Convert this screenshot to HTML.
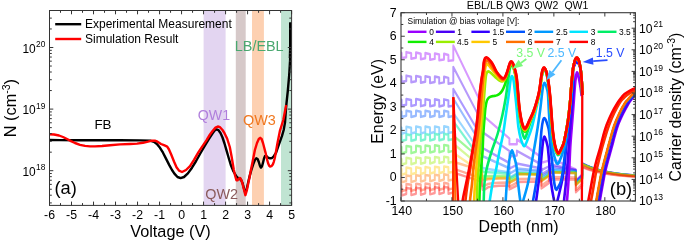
<!DOCTYPE html>
<html><head><meta charset="utf-8"><title>Figure</title>
<style>
html,body{margin:0;padding:0;background:#fff;}
body{width:685px;height:242px;overflow:hidden;}
svg{display:block;}
svg text{font-family:"Liberation Sans", Arial, Helvetica, sans-serif;}
</style></head><body>
<svg width="685" height="242" viewBox="0 0 685 242">
<defs>
<clipPath id="clipL"><rect x="49.5" y="10.5" width="242.10" height="194.9"/></clipPath>
<clipPath id="clipR"><rect x="401.0" y="12.7" width="234.40" height="188.30"/></clipPath>
</defs>
<rect width="685" height="242" fill="#fff"/>
<rect x="203.6" y="10.5" width="22.00" height="194.9" fill="#e3d5f1"/>
<rect x="235.8" y="10.5" width="9.90" height="194.9" fill="#d6c9c9"/>
<rect x="252.0" y="10.5" width="11.90" height="194.9" fill="#fdd0b1"/>
<rect x="281.0" y="10.5" width="10.60" height="194.9" fill="#c0e4d2"/>
<g clip-path="url(#clipL)">
<path d="M49.50,140.00 L60.00,140.10 L80.00,140.20 L100.00,140.30 L120.00,140.30 L140.00,140.40 L150.70,140.80 L154.00,141.80 L156.90,144.00 L160.00,147.80 L163.00,152.70 L166.00,158.60 L169.30,165.10 L172.00,170.00 L174.40,173.60 L177.50,177.00 L180.60,178.10 L184.00,177.00 L187.90,173.40 L192.00,167.70 L196.10,161.00 L200.00,154.00 L204.40,146.50 L208.50,139.60 L212.60,133.40 L214.60,130.60 L216.40,129.40 L218.50,130.20 L220.50,133.00 L222.50,137.50 L224.50,143.50 L226.50,150.40 L229.00,159.00 L231.10,165.90 L233.50,171.50 L236.40,176.40 L239.00,178.80 L241.00,179.70 L242.50,183.00 L244.00,188.50 L245.20,192.50 L246.50,190.00 L248.00,183.00 L249.60,176.40 L251.50,169.50 L253.60,163.20 L255.00,159.80 L256.30,158.30 L257.60,159.00 L258.80,162.00 L260.00,166.00 L260.90,167.60 L261.90,166.50 L262.90,163.20 L264.00,158.50 L265.00,156.00 L266.50,156.20 L268.00,157.60 L270.10,158.40 L272.00,158.00 L274.00,156.00 L276.10,152.60 L278.70,145.10 L280.50,140.00 L282.00,135.90 L283.70,130.00 L285.00,122.60 L286.20,106.00 L287.80,91.00 L289.20,75.00 L290.10,60.00 L290.40,47.00 L290.45,22.60" fill="none" stroke="#000" stroke-width="2.4" stroke-linejoin="round" stroke-linecap="butt"/>
<path d="M290.2,58 L290.5,47 L290.5,22.6" fill="none" stroke="#000" stroke-width="3"/>
<path d="M49.50,134.20 L54.00,134.50 L59.00,135.50 L63.00,137.00 L67.00,139.00 L71.00,141.10 L75.00,143.00 L80.00,144.80 L85.00,145.90 L90.00,146.40 L95.00,146.40 L102.00,146.00 L110.00,145.20 L120.00,144.40 L130.00,144.00 L137.00,143.60 L143.00,142.80 L148.00,141.60 L151.00,140.80 L154.80,140.60 L157.50,141.70 L161.00,144.00 L164.00,145.20 L167.20,146.60 L169.00,149.50 L171.30,154.80 L174.00,161.50 L176.50,167.20 L179.00,170.60 L182.00,172.00 L186.00,170.00 L190.00,166.20 L194.00,159.80 L198.20,152.70 L202.00,146.80 L206.40,140.30 L210.00,134.50 L212.60,131.00 L215.50,127.60 L217.80,126.50 L220.00,127.20 L222.50,130.00 L224.50,133.20 L227.10,138.50 L229.80,147.00 L231.50,156.00 L233.80,169.80 L235.20,176.00 L236.40,180.20 L237.40,180.40 L238.40,179.20 L239.60,178.00 L240.40,178.20 L241.30,180.00 L242.40,183.30 L243.80,189.00 L245.40,195.20 L246.80,190.50 L248.30,183.30 L249.60,177.00 L251.00,169.50 L252.30,163.20 L254.90,150.00 L257.00,143.00 L258.80,139.00 L260.20,137.80 L261.60,139.00 L263.00,143.00 L264.30,148.00 L265.50,152.60 L266.80,158.50 L268.10,163.20 L269.20,165.80 L270.10,166.50 L271.40,166.20 L272.80,164.50 L273.80,161.80 L274.80,158.00 L276.10,151.00 L277.50,143.00 L280.00,130.60 L283.30,120.00 L286.20,105.00" fill="none" stroke="#f00" stroke-width="2.4" stroke-linejoin="round" stroke-linecap="butt"/>
</g>
<path d="M49.50,205.4 v-3.8 M49.50,10.5 v3.8 M60.50,205.4 v-2.3 M60.50,10.5 v2.3 M71.51,205.4 v-3.8 M71.51,10.5 v3.8 M82.51,205.4 v-2.3 M82.51,10.5 v2.3 M93.52,205.4 v-3.8 M93.52,10.5 v3.8 M104.52,205.4 v-2.3 M104.52,10.5 v2.3 M115.53,205.4 v-3.8 M115.53,10.5 v3.8 M126.53,205.4 v-2.3 M126.53,10.5 v2.3 M137.54,205.4 v-3.8 M137.54,10.5 v3.8 M148.54,205.4 v-2.3 M148.54,10.5 v2.3 M159.55,205.4 v-3.8 M159.55,10.5 v3.8 M170.55,205.4 v-2.3 M170.55,10.5 v2.3 M181.55,205.4 v-3.8 M181.55,10.5 v3.8 M192.56,205.4 v-2.3 M192.56,10.5 v2.3 M203.56,205.4 v-3.8 M203.56,10.5 v3.8 M214.57,205.4 v-2.3 M214.57,10.5 v2.3 M225.57,205.4 v-3.8 M225.57,10.5 v3.8 M236.58,205.4 v-2.3 M236.58,10.5 v2.3 M247.58,205.4 v-3.8 M247.58,10.5 v3.8 M258.59,205.4 v-2.3 M258.59,10.5 v2.3 M269.59,205.4 v-3.8 M269.59,10.5 v3.8 M280.60,205.4 v-2.3 M280.60,10.5 v2.3 M291.60,205.4 v-3.8 M291.60,10.5 v3.8 M49.5,202.91 h2.3 M291.6,202.91 h-2.3 M49.5,195.21 h2.3 M291.6,195.21 h-2.3 M49.5,189.24 h2.3 M291.6,189.24 h-2.3 M49.5,184.37 h2.3 M291.6,184.37 h-2.3 M49.5,180.24 h2.3 M291.6,180.24 h-2.3 M49.5,176.67 h2.3 M291.6,176.67 h-2.3 M49.5,173.52 h2.3 M291.6,173.52 h-2.3 M49.5,170.70 h3.8 M291.6,170.70 h-3.8 M49.5,152.16 h2.3 M291.6,152.16 h-2.3 M49.5,141.31 h2.3 M291.6,141.31 h-2.3 M49.5,133.61 h2.3 M291.6,133.61 h-2.3 M49.5,127.64 h2.3 M291.6,127.64 h-2.3 M49.5,122.77 h2.3 M291.6,122.77 h-2.3 M49.5,118.64 h2.3 M291.6,118.64 h-2.3 M49.5,115.07 h2.3 M291.6,115.07 h-2.3 M49.5,111.92 h2.3 M291.6,111.92 h-2.3 M49.5,109.10 h3.8 M291.6,109.10 h-3.8 M49.5,90.56 h2.3 M291.6,90.56 h-2.3 M49.5,79.71 h2.3 M291.6,79.71 h-2.3 M49.5,72.01 h2.3 M291.6,72.01 h-2.3 M49.5,66.04 h2.3 M291.6,66.04 h-2.3 M49.5,61.17 h2.3 M291.6,61.17 h-2.3 M49.5,57.04 h2.3 M291.6,57.04 h-2.3 M49.5,53.47 h2.3 M291.6,53.47 h-2.3 M49.5,50.32 h2.3 M291.6,50.32 h-2.3 M49.5,47.50 h3.8 M291.6,47.50 h-3.8 M49.5,28.96 h2.3 M291.6,28.96 h-2.3 M49.5,18.11 h2.3 M291.6,18.11 h-2.3" stroke="#333" stroke-width="1.0" fill="none"/>
<rect x="49.5" y="10.5" width="242.10" height="194.9" fill="none" stroke="#333" stroke-width="1.0"/>
<text x="49.50" y="219.4" font-size="12.3" text-anchor="middle">-6</text>
<text x="71.51" y="219.4" font-size="12.3" text-anchor="middle">-5</text>
<text x="93.52" y="219.4" font-size="12.3" text-anchor="middle">-4</text>
<text x="115.53" y="219.4" font-size="12.3" text-anchor="middle">-3</text>
<text x="137.54" y="219.4" font-size="12.3" text-anchor="middle">-2</text>
<text x="159.55" y="219.4" font-size="12.3" text-anchor="middle">-1</text>
<text x="181.55" y="219.4" font-size="12.3" text-anchor="middle">0</text>
<text x="203.56" y="219.4" font-size="12.3" text-anchor="middle">1</text>
<text x="225.57" y="219.4" font-size="12.3" text-anchor="middle">2</text>
<text x="247.58" y="219.4" font-size="12.3" text-anchor="middle">3</text>
<text x="269.59" y="219.4" font-size="12.3" text-anchor="middle">4</text>
<text x="291.60" y="219.4" font-size="12.3" text-anchor="middle">5</text>
<text x="22.4" y="175.70" font-size="11.9">10<tspan font-size="8.4" x="36.0" dy="-5.4">18</tspan></text>
<text x="22.4" y="114.10" font-size="11.9">10<tspan font-size="8.4" x="36.0" dy="-5.4">19</tspan></text>
<text x="22.4" y="52.50" font-size="11.9">10<tspan font-size="8.4" x="36.0" dy="-5.4">20</tspan></text>
<text x="170.5" y="237.1" font-size="16.3" text-anchor="middle">Voltage (V)</text>
<text transform="translate(16.0,108.1) rotate(-90)" font-size="16.3" text-anchor="middle">N (cm<tspan font-size="10.5" dy="-6">-3</tspan><tspan dy="6">)</tspan></text>
<path d="M55.2,24.2 h26" stroke="#000" stroke-width="2.4"/>
<path d="M55.2,39.0 h26" stroke="#f00" stroke-width="2.4"/>
<text x="85" y="28.4" font-size="12.0">Experimental Measurement</text>
<text x="85" y="43.1" font-size="12.0">Simulation Result</text>
<text x="94.4" y="128.8" font-size="13.4">FB</text>
<text x="197.8" y="120.3" font-size="14.2" fill="#b07fdc">QW1</text>
<text x="205.3" y="198.8" font-size="14.4" fill="#8a5a5a">QW2</text>
<text x="243" y="125.2" font-size="14.4" fill="#f07820">QW3</text>
<text x="234.8" y="50.9" font-size="14.4" fill="#4aa870">LB/EBL</text>
<text x="54.5" y="194.2" font-size="18.3">(a)</text>
<g clip-path="url(#clipR)">
<g transform="scale(0.78,1)">
<path d="M511.54,52.29 L514.87,52.90 L514.87,58.14 L520.90,57.22 L520.90,52.11 L527.18,53.33 L527.18,58.70 L533.33,57.78 L533.33,52.55 L539.49,53.77 L539.49,59.27 L545.26,58.33 L545.26,52.97 L551.28,54.18 L551.28,59.80 L557.44,58.88 L557.44,53.40 L563.08,54.59 L563.08,60.34 L569.23,59.42 L569.23,53.81 L574.87,55.01 L574.87,60.88 L581.15,60.27 L581.15,45.60 L612.82,96.80 L617.31,104.06 L618.59,115.13 L621.79,117.30 L653.08,138.50 L653.08,144.30 L662.69,144.30 L662.69,139.40 L694.10,157.30 L694.10,162.70 L703.72,160.60 L703.72,157.50 L738.21,169.50 L738.21,180.50 L746.54,174.20 L746.54,163.40 L748.72,164.28 L752.56,165.70 L756.41,166.96 L760.26,168.09 L764.10,169.09 L767.95,169.99 L771.79,170.78 L775.64,171.49 L779.49,172.13 L783.33,172.69 L787.18,173.19 L791.03,173.64 L794.87,174.04 L798.72,174.39 L802.56,174.71 L806.41,174.99 L810.26,175.24 L814.10,175.47 L817.95,175.67 L821.79,175.85" fill="none" stroke="#9b00ff" stroke-opacity="0.4" stroke-width="2.5" stroke-linejoin="round"/>
<path d="M511.54,75.89 L514.87,76.47 L514.87,81.93 L520.90,80.91 L520.90,75.61 L527.18,76.76 L527.18,82.30 L533.33,81.29 L533.33,75.90 L539.49,77.04 L539.49,82.68 L545.26,81.65 L545.26,76.18 L551.28,77.32 L551.28,83.04 L557.44,82.02 L557.44,76.46 L563.08,77.60 L563.08,83.39 L569.23,82.38 L569.23,76.74 L574.87,77.87 L574.87,83.75 L581.15,83.04 L581.15,67.00 L611.79,112.90 L617.31,121.16 L618.59,132.04 L621.79,133.80 L653.08,151.00 L653.08,156.60 L662.69,155.50 L662.69,150.80 L694.10,164.50 L694.10,170.20 L703.72,166.30 L703.72,164.00 L738.21,170.00 L738.21,181.20 L746.54,174.90 L746.54,163.50 L748.72,164.37 L752.56,165.79 L756.41,167.04 L760.26,168.16 L764.10,169.16 L767.95,170.05 L771.79,170.84 L775.64,171.55 L779.49,172.18 L783.33,172.74 L787.18,173.24 L791.03,173.68 L794.87,174.08 L798.72,174.43 L802.56,174.75 L806.41,175.03 L810.26,175.28 L814.10,175.50 L817.95,175.70 L821.79,175.87" fill="none" stroke="#4a00f5" stroke-opacity="0.4" stroke-width="2.5" stroke-linejoin="round"/>
<path d="M511.54,99.32 L514.87,99.85 L514.87,105.83 L520.90,104.70 L520.90,98.90 L527.18,99.96 L527.18,105.98 L533.33,104.86 L533.33,99.02 L539.49,100.08 L539.49,106.13 L545.26,105.00 L545.26,99.13 L551.28,100.19 L551.28,106.27 L557.44,105.15 L557.44,99.25 L563.08,100.30 L563.08,106.42 L569.23,105.29 L569.23,99.36 L574.87,100.41 L574.87,106.56 L581.15,105.74 L581.15,89.00 L603.85,119.00 L617.31,136.80 L618.59,147.90 L621.79,149.30 L653.08,163.00 L653.08,168.50 L662.69,164.90 L662.69,163.50 L694.10,168.50 L694.10,174.30 L703.72,170.00 L703.72,166.00 L738.21,170.30 L738.21,181.60 L746.54,175.30 L746.54,163.60 L748.72,164.47 L752.56,165.87 L756.41,167.12 L760.26,168.24 L764.10,169.23 L767.95,170.11 L771.79,170.90 L775.64,171.60 L779.49,172.23 L783.33,172.78 L787.18,173.28 L791.03,173.72 L794.87,174.12 L798.72,174.47 L802.56,174.78 L806.41,175.06 L810.26,175.31 L814.10,175.53 L817.95,175.73 L821.79,175.90" fill="none" stroke="#3300ff" stroke-opacity="0.4" stroke-width="2.5" stroke-linejoin="round"/>
<path d="M511.54,111.30 L514.87,111.80 L514.87,116.90 L520.90,115.70 L520.90,110.80 L527.18,111.80 L527.18,116.90 L533.33,115.70 L533.33,110.80 L539.49,111.80 L539.49,116.90 L545.26,115.70 L545.26,110.80 L551.28,111.80 L551.28,116.90 L557.44,115.70 L557.44,110.80 L563.08,111.80 L563.08,116.90 L569.23,115.70 L569.23,110.80 L574.87,111.80 L574.87,116.90 L581.15,116.00 L581.15,98.50 L597.18,119.00 L617.31,144.75 L618.59,156.17 L621.79,157.30 L653.08,168.30 L653.08,173.70 L662.69,169.30 L662.69,168.50 L694.10,170.80 L694.10,176.70 L703.72,171.90 L703.72,168.50 L738.21,170.80 L738.21,182.20 L746.54,175.90 L746.54,163.70 L748.72,164.56 L752.56,165.96 L756.41,167.20 L760.26,168.31 L764.10,169.29 L767.95,170.17 L771.79,170.96 L775.64,171.65 L779.49,172.28 L783.33,172.83 L787.18,173.32 L791.03,173.76 L794.87,174.16 L798.72,174.50 L802.56,174.82 L806.41,175.09 L810.26,175.34 L814.10,175.56 L817.95,175.76 L821.79,175.93" fill="none" stroke="#0055ff" stroke-opacity="0.4" stroke-width="2.5" stroke-linejoin="round"/>
<path d="M511.54,127.27 L514.87,127.74 L514.87,133.66 L520.90,132.40 L520.90,126.70 L527.18,127.65 L527.18,133.53 L533.33,132.27 L533.33,126.60 L539.49,127.55 L539.49,133.41 L545.26,132.15 L545.26,126.51 L551.28,127.46 L551.28,133.29 L557.44,132.03 L557.44,126.41 L563.08,127.37 L563.08,133.17 L569.23,131.91 L569.23,126.32 L574.87,127.28 L574.87,133.05 L581.15,132.09 L581.15,113.00 L599.36,133.50 L617.31,153.71 L618.59,168.09 L621.79,168.50 L653.08,172.50 L653.08,177.80 L662.69,173.30 L662.69,170.50 L694.10,172.00 L694.10,178.00 L703.72,172.90 L703.72,170.00 L738.21,171.30 L738.21,182.80 L746.54,176.50 L746.54,163.80 L748.72,164.66 L752.56,166.05 L756.41,167.28 L760.26,168.38 L764.10,169.36 L767.95,170.24 L771.79,171.01 L775.64,171.71 L779.49,172.33 L783.33,172.88 L787.18,173.37 L791.03,173.80 L794.87,174.19 L798.72,174.54 L802.56,174.85 L806.41,175.13 L810.26,175.37 L814.10,175.59 L817.95,175.79 L821.79,175.96" fill="none" stroke="#0099ff" stroke-opacity="0.4" stroke-width="2.5" stroke-linejoin="round"/>
<path d="M511.54,134.70 L514.87,135.17 L514.87,140.79 L520.90,139.49 L520.90,134.10 L527.18,135.02 L527.18,140.60 L533.33,139.31 L533.33,133.95 L539.49,134.88 L539.49,140.41 L545.26,139.12 L545.26,133.81 L551.28,134.74 L551.28,140.23 L557.44,138.94 L557.44,133.67 L563.08,134.60 L563.08,140.05 L569.23,138.76 L569.23,133.53 L574.87,134.46 L574.87,139.87 L581.15,138.88 L581.15,121.00 L596.03,137.00 L617.31,159.90 L618.59,171.30 L621.79,171.50 L653.08,173.50 L653.08,178.60 L662.69,174.10 L662.69,172.90 L694.10,173.60 L694.10,179.60 L703.72,174.40 L703.72,171.20 L738.21,172.10 L738.21,183.70 L746.54,177.40 L746.54,163.90 L748.72,164.75 L752.56,166.13 L756.41,167.36 L760.26,168.45 L764.10,169.43 L767.95,170.30 L771.79,171.07 L775.64,171.76 L779.49,172.38 L783.33,172.92 L787.18,173.41 L791.03,173.85 L794.87,174.23 L798.72,174.58 L802.56,174.89 L806.41,175.16 L810.26,175.40 L814.10,175.62 L817.95,175.82 L821.79,175.99" fill="none" stroke="#00e5ff" stroke-opacity="0.3" stroke-width="2.5" stroke-linejoin="round"/>
<path d="M511.54,135.10 L514.87,135.57 L514.87,141.19 L520.90,139.89 L520.90,134.50 L527.18,135.42 L527.18,141.00 L533.33,139.71 L533.33,134.35 L539.49,135.28 L539.49,140.81 L545.26,139.52 L545.26,134.21 L551.28,135.14 L551.28,140.63 L557.44,139.34 L557.44,134.07 L563.08,135.00 L563.08,140.45 L569.23,139.16 L569.23,133.93 L574.87,134.86 L574.87,140.27 L581.15,139.28 L581.15,121.40 L596.03,137.40 L617.31,160.30 L618.59,171.70 L621.79,171.90 L653.08,173.90 L653.08,178.90 L662.69,174.50 L662.69,173.20 L694.10,173.90 L694.10,180.00 L703.72,174.80 L703.72,171.50 L738.21,172.40 L738.21,184.10 L746.54,177.80 L746.54,163.95 L748.72,164.80 L752.56,166.17 L756.41,167.40 L760.26,168.49 L764.10,169.46 L767.95,170.32 L771.79,171.10 L775.64,171.78 L779.49,172.39 L783.33,172.94 L787.18,173.43 L791.03,173.86 L794.87,174.25 L798.72,174.59 L802.56,174.90 L806.41,175.17 L810.26,175.41 L814.10,175.63 L817.95,175.82 L821.79,175.99" fill="none" stroke="#00ee66" stroke-opacity="0.3" stroke-width="2.5" stroke-linejoin="round"/>
<path d="M511.54,146.58 L514.87,147.01 L514.87,153.44 L520.90,152.09 L520.90,145.89 L527.18,146.77 L527.18,153.13 L533.33,151.78 L533.33,145.65 L539.49,146.53 L539.49,152.82 L545.26,151.47 L545.26,145.42 L551.28,146.30 L551.28,152.52 L557.44,151.16 L557.44,145.18 L563.08,146.07 L563.08,152.22 L569.23,150.86 L569.23,144.95 L574.87,145.84 L574.87,151.92 L581.15,150.86 L581.15,135.50 L603.46,150.50 L617.31,159.81 L618.59,176.33 L621.79,176.30 L625.64,176.15 L630.77,176.07 L639.74,176.02 L653.08,176.00 L653.08,180.90 L662.69,176.60 L662.69,173.50 L694.10,174.20 L694.10,180.40 L703.72,175.10 L703.72,171.90 L738.21,172.70 L738.21,184.50 L746.54,178.20 L746.54,164.00 L748.72,164.85 L752.56,166.22 L756.41,167.44 L760.26,168.53 L764.10,169.50 L767.95,170.36 L771.79,171.13 L775.64,171.81 L779.49,172.43 L783.33,172.97 L787.18,173.45 L791.03,173.89 L794.87,174.27 L798.72,174.62 L802.56,174.92 L806.41,175.19 L810.26,175.44 L814.10,175.65 L817.95,175.84 L821.79,176.02" fill="none" stroke="#11ee00" stroke-opacity="0.4" stroke-width="2.5" stroke-linejoin="round"/>
<path d="M511.54,158.51 L514.87,158.93 L514.87,164.57 L520.90,163.19 L520.90,157.79 L527.18,158.64 L527.18,164.20 L533.33,162.81 L533.33,157.50 L539.49,158.36 L539.49,163.82 L545.26,162.45 L545.26,157.22 L551.28,158.08 L551.28,163.46 L557.44,162.08 L557.44,156.94 L563.08,157.80 L563.08,163.11 L569.23,161.72 L569.23,156.66 L574.87,157.53 L574.87,162.75 L581.15,161.66 L581.15,143.60 L602.05,157.30 L617.31,167.30 L618.59,178.27 L621.79,178.20 L625.64,177.85 L630.77,177.68 L639.74,177.56 L653.08,177.50 L653.08,182.30 L662.69,178.10 L662.69,173.70 L694.10,174.40 L694.10,180.70 L703.72,175.40 L703.72,172.10 L738.21,172.90 L738.21,184.80 L746.54,178.50 L746.54,164.10 L748.72,164.94 L752.56,166.31 L756.41,167.52 L760.26,168.60 L764.10,169.56 L767.95,170.42 L771.79,171.19 L775.64,171.87 L779.49,172.48 L783.33,173.02 L787.18,173.50 L791.03,173.93 L794.87,174.31 L798.72,174.65 L802.56,174.96 L806.41,175.23 L810.26,175.47 L814.10,175.68 L817.95,175.87 L821.79,176.04" fill="none" stroke="#99ee00" stroke-opacity="0.4" stroke-width="2.5" stroke-linejoin="round"/>
<path d="M511.54,168.31 L514.87,168.73 L514.87,174.67 L520.90,173.29 L520.90,167.59 L527.18,168.44 L527.18,174.30 L533.33,172.91 L533.33,167.30 L539.49,168.16 L539.49,173.92 L545.26,172.55 L545.26,167.02 L551.28,167.88 L551.28,173.56 L557.44,172.18 L557.44,166.74 L563.08,167.60 L563.08,173.21 L569.23,171.82 L569.23,166.46 L574.87,167.33 L574.87,172.85 L581.15,171.76 L581.15,152.80 L600.51,163.10 L617.31,172.04 L618.59,179.53 L621.79,179.40 L625.64,178.75 L630.77,178.43 L639.74,178.20 L653.08,178.10 L653.08,182.80 L662.69,178.70 L662.69,173.90 L694.10,174.60 L694.10,181.00 L703.72,175.70 L703.72,172.30 L738.21,173.10 L738.21,185.10 L746.54,178.80 L746.54,164.30 L748.72,165.13 L752.56,166.48 L756.41,167.68 L760.26,168.75 L764.10,169.70 L767.95,170.55 L771.79,171.30 L775.64,171.98 L779.49,172.58 L783.33,173.11 L787.18,173.59 L791.03,174.01 L794.87,174.39 L798.72,174.73 L802.56,175.03 L806.41,175.29 L810.26,175.53 L814.10,175.74 L817.95,175.93 L821.79,176.10" fill="none" stroke="#ffc800" stroke-opacity="0.4" stroke-width="2.5" stroke-linejoin="round"/>
<path d="M511.54,176.21 L514.87,176.63 L514.87,182.37 L520.90,180.99 L520.90,175.49 L527.18,176.34 L527.18,182.00 L533.33,180.61 L533.33,175.20 L539.49,176.06 L539.49,181.62 L545.26,180.25 L545.26,174.92 L551.28,175.78 L551.28,181.26 L557.44,179.88 L557.44,174.64 L563.08,175.50 L563.08,180.91 L569.23,179.52 L569.23,174.36 L574.87,175.23 L574.87,180.55 L581.15,179.46 L581.15,161.70 L599.74,166.30 L617.31,170.65 L618.59,180.15 L621.79,180.00 L625.64,179.25 L630.77,178.88 L639.74,178.62 L653.08,178.50 L653.08,183.00 L662.69,179.10 L662.69,174.10 L694.10,174.80 L694.10,181.40 L703.72,176.10 L703.72,172.50 L738.21,173.30 L738.21,185.50 L746.54,179.20 L746.54,164.50 L748.72,165.33 L752.56,166.67 L756.41,167.86 L760.26,168.93 L764.10,169.87 L767.95,170.72 L771.79,171.47 L775.64,172.14 L779.49,172.74 L783.33,173.27 L787.18,173.74 L791.03,174.17 L794.87,174.54 L798.72,174.88 L802.56,175.18 L806.41,175.44 L810.26,175.68 L814.10,175.89 L817.95,176.08 L821.79,176.25" fill="none" stroke="#ff7000" stroke-opacity="0.4" stroke-width="2.5" stroke-linejoin="round"/>
<path d="M511.54,184.71 L514.87,185.13 L514.87,191.27 L520.90,189.89 L520.90,183.99 L527.18,184.84 L527.18,190.90 L533.33,189.51 L533.33,183.70 L539.49,184.56 L539.49,190.52 L545.26,189.15 L545.26,183.42 L551.28,184.28 L551.28,190.16 L557.44,188.78 L557.44,183.14 L563.08,184.00 L563.08,189.81 L569.23,188.42 L569.23,182.86 L574.87,183.73 L574.87,189.45 L581.15,188.36 L581.15,168.60 L598.97,173.40 L617.31,178.34 L618.59,185.93 L621.79,185.60 L625.64,184.00 L630.77,183.20 L639.74,182.66 L653.08,182.40 L653.08,186.70 L662.69,182.70 L662.69,179.00 L694.10,178.80 L694.10,185.60 L703.72,180.30 L703.72,177.00 L738.21,177.50 L738.21,189.90 L746.54,183.60 L746.54,166.30 L748.72,167.03 L752.56,168.22 L756.41,169.27 L760.26,170.21 L764.10,171.04 L767.95,171.79 L771.79,172.45 L775.64,173.04 L779.49,173.57 L783.33,174.04 L787.18,174.46 L791.03,174.83 L794.87,175.16 L798.72,175.46 L802.56,175.72 L806.41,175.96 L810.26,176.17 L814.10,176.35 L817.95,176.52 L821.79,176.67" fill="none" stroke="#ff3000" stroke-opacity="0.4" stroke-width="2.5" stroke-linejoin="round"/>
<path d="M511.54,188.71 L514.87,189.13 L514.87,195.47 L520.90,194.09 L520.90,187.99 L527.18,188.84 L527.18,195.10 L533.33,193.71 L533.33,187.70 L539.49,188.56 L539.49,194.72 L545.26,193.35 L545.26,187.42 L551.28,188.28 L551.28,194.36 L557.44,192.98 L557.44,187.14 L563.08,188.00 L563.08,194.01 L569.23,192.62 L569.23,186.86 L574.87,187.73 L574.87,193.65 L581.15,192.56 L581.15,172.50 L597.44,176.60 L617.31,181.60 L618.59,189.70 L621.79,189.30 L625.64,187.35 L630.77,186.38 L639.74,185.71 L653.08,185.40 L653.08,189.40 L662.69,185.60 L662.69,182.00 L694.10,181.50 L694.10,188.50 L703.72,183.10 L703.72,179.20 L738.21,179.60 L738.21,192.20 L746.54,185.90 L746.54,167.20 L748.72,167.89 L752.56,169.00 L756.41,169.98 L760.26,170.86 L764.10,171.65 L767.95,172.35 L771.79,172.97 L775.64,173.52 L779.49,174.02 L783.33,174.46 L787.18,174.85 L791.03,175.20 L794.87,175.51 L798.72,175.79 L802.56,176.04 L806.41,176.26 L810.26,176.45 L814.10,176.63 L817.95,176.79 L821.79,176.92" fill="none" stroke="#ff0000" stroke-opacity="0.4" stroke-width="2.5" stroke-linejoin="round"/>
</g>
<path d="M566.20,215.00 C566.33,212.67 566.65,206.17 567.00,201.00 C567.35,195.83 567.90,189.83 568.30,184.00 C568.70,178.17 569.05,172.50 569.40,166.00 C569.75,159.50 569.93,152.33 570.40,145.00 C570.87,137.67 571.67,128.83 572.20,122.00 C572.73,115.17 573.15,110.00 573.60,104.00 C574.05,98.00 574.52,90.50 574.90,86.00 C575.28,81.50 575.55,79.27 575.90,77.00 C576.25,74.73 576.62,72.65 577.00,72.40 C577.38,72.15 577.80,74.07 578.20,75.50 C578.60,76.93 579.00,78.92 579.40,81.00 C579.80,83.08 580.23,85.50 580.60,88.00 C580.97,90.50 581.43,94.67 581.60,96.00" fill="none" stroke="#9b00ff" stroke-width="2.6" stroke-linejoin="round" stroke-linecap="butt"/>
<path d="M597.60,215.00 C597.97,212.67 599.23,204.50 599.80,201.00 C600.37,197.50 600.47,197.00 601.00,194.00 C601.53,191.00 602.32,186.67 603.00,183.00 C603.68,179.33 604.23,175.83 605.10,172.00 C605.97,168.17 607.08,164.17 608.20,160.00 C609.32,155.83 610.72,151.00 611.80,147.00 C612.88,143.00 613.67,139.67 614.70,136.00 C615.73,132.33 616.55,128.83 618.00,125.00 C619.45,121.17 621.60,116.67 623.40,113.00 C625.20,109.33 627.53,105.17 628.80,103.00 C630.07,100.83 630.30,100.92 631.00,100.00 C631.70,99.08 632.45,98.18 633.00,97.50 C633.55,96.82 633.30,96.32 634.30,95.90 C635.30,95.48 637.88,95.23 639.00,95.00 C640.12,94.77 640.67,94.58 641.00,94.50" fill="none" stroke="#9b00ff" stroke-width="2.6" stroke-linejoin="round" stroke-linecap="butt"/>
<path d="M563.20,215.00 C563.33,212.67 563.57,206.17 564.00,201.00 C564.43,195.83 565.23,189.83 565.80,184.00 C566.37,178.17 566.88,172.50 567.40,166.00 C567.92,159.50 568.33,152.33 568.90,145.00 C569.47,137.67 570.22,128.83 570.80,122.00 C571.38,115.17 571.92,110.00 572.40,104.00 C572.88,98.00 573.62,91.67 573.70,86.00 C573.78,80.33 572.83,73.32 572.90,70.00 C572.97,66.68 573.68,67.18 574.10,66.08 C574.52,64.98 574.95,64.10 575.40,63.40 C575.85,62.70 576.32,61.90 576.80,61.90 C577.28,61.90 577.83,62.70 578.30,63.40 C578.77,64.10 579.20,64.98 579.60,66.08 C580.00,67.18 580.44,67.68 580.70,70.00 C580.96,72.32 580.99,77.00 581.18,80.00 C581.38,83.00 581.71,85.50 581.89,88.00 C582.07,90.50 582.19,93.83 582.25,95.00" fill="none" stroke="#4a00f5" stroke-width="2.6" stroke-linejoin="round" stroke-linecap="butt"/>
<path d="M596.90,215.00 C597.27,212.67 598.53,204.50 599.10,201.00 C599.67,197.50 599.77,197.00 600.30,194.00 C600.83,191.00 601.62,186.67 602.30,183.00 C602.98,179.33 603.53,175.83 604.40,172.00 C605.27,168.17 606.38,164.17 607.50,160.00 C608.62,155.83 610.02,151.00 611.10,147.00 C612.18,143.00 612.97,139.67 614.00,136.00 C615.03,132.33 615.85,128.83 617.30,125.00 C618.75,121.17 620.90,116.67 622.70,113.00 C624.50,109.33 626.83,105.17 628.10,103.00 C629.37,100.83 629.60,100.92 630.30,100.00 C631.00,99.08 631.75,98.18 632.30,97.50 C632.85,96.82 632.60,96.32 633.60,95.90 C634.60,95.48 637.18,95.23 638.30,95.00 C639.42,94.77 639.97,94.58 640.30,94.50" fill="none" stroke="#4a00f5" stroke-width="2.6" stroke-linejoin="round" stroke-linecap="butt"/>
<path d="M534.30,215.00 C534.60,212.67 535.35,206.67 536.10,201.00 C536.85,195.33 538.07,186.83 538.80,181.00 C539.53,175.17 539.92,171.50 540.50,166.00 C541.08,160.50 541.82,152.42 542.30,148.00 C542.78,143.58 543.03,141.40 543.40,139.50 C543.77,137.60 544.12,136.63 544.50,136.60 C544.88,136.57 545.32,138.23 545.70,139.30 C546.08,140.37 546.42,141.38 546.80,143.00 C547.18,144.62 547.55,145.17 548.00,149.00 C548.45,152.83 549.03,160.67 549.50,166.00 C549.97,171.33 550.12,175.67 550.80,181.00 C551.48,186.33 552.77,193.83 553.60,198.00 C554.43,202.17 555.13,205.67 555.80,206.00 C556.47,206.33 556.90,202.67 557.60,200.00 C558.30,197.33 559.27,193.17 560.00,190.00 C560.73,186.83 561.27,185.00 562.00,181.00 C562.73,177.00 563.67,172.00 564.40,166.00 C565.13,160.00 565.63,152.33 566.40,145.00 C567.17,137.67 568.23,128.83 569.00,122.00 C569.77,115.17 570.40,110.00 571.00,104.00 C571.60,98.00 572.28,91.67 572.60,86.00 C572.92,80.33 572.65,73.42 572.90,70.00 C573.15,66.58 573.68,66.75 574.10,65.48 C574.52,64.21 574.95,63.16 575.40,62.40 C575.85,61.64 576.32,60.90 576.80,60.90 C577.28,60.90 577.83,61.64 578.30,62.40 C578.77,63.16 579.20,64.21 579.60,65.48 C580.00,66.75 580.42,67.58 580.70,70.00 C580.98,72.42 581.10,77.00 581.30,80.00 C581.51,83.00 581.79,85.50 581.95,88.00 C582.11,90.50 582.20,93.83 582.25,95.00" fill="none" stroke="#3300ff" stroke-width="2.6" stroke-linejoin="round" stroke-linecap="butt"/>
<path d="M595.60,215.00 C595.80,212.67 596.42,204.50 596.80,201.00 C597.18,197.50 597.38,197.00 597.90,194.00 C598.42,191.00 599.22,186.67 599.90,183.00 C600.58,179.33 601.15,175.83 602.00,172.00 C602.85,168.17 603.93,164.17 605.00,160.00 C606.07,155.83 607.32,151.00 608.40,147.00 C609.48,143.00 610.42,139.67 611.50,136.00 C612.58,132.33 613.47,128.83 614.90,125.00 C616.33,121.17 618.30,116.67 620.10,113.00 C621.90,109.33 624.28,105.17 625.70,103.00 C627.12,100.83 627.62,101.00 628.60,100.00 C629.58,99.00 630.77,97.83 631.60,97.00 C632.43,96.17 633.13,95.47 633.60,95.00 C634.07,94.53 633.48,94.48 634.40,94.20 C635.32,93.92 638.32,93.45 639.10,93.30" fill="none" stroke="#3300ff" stroke-width="2.0" stroke-linejoin="round" stroke-linecap="butt"/>
<path d="M531.20,215.00 C531.50,212.67 532.20,206.17 533.00,201.00 C533.80,195.83 535.07,189.83 536.00,184.00 C536.93,178.17 537.92,172.00 538.60,166.00 C539.28,160.00 539.62,154.00 540.10,148.00 C540.58,142.00 541.02,134.58 541.50,130.00 C541.98,125.42 542.50,122.50 543.00,120.50 C543.50,118.50 544.00,118.00 544.50,118.00 C545.00,118.00 545.50,119.33 546.00,120.50 C546.50,121.67 547.00,123.25 547.50,125.00 C548.00,126.75 548.48,127.17 549.00,131.00 C549.52,134.83 550.00,142.17 550.60,148.00 C551.20,153.83 552.03,160.50 552.60,166.00 C553.17,171.50 553.55,177.33 554.00,181.00 C554.45,184.67 554.92,186.50 555.30,188.00 C555.68,189.50 555.92,189.97 556.30,190.00 C556.68,190.03 556.82,189.70 557.60,188.20 C558.38,186.70 560.00,184.70 561.00,181.00 C562.00,177.30 562.80,172.00 563.60,166.00 C564.40,160.00 564.97,152.33 565.80,145.00 C566.63,137.67 567.78,128.83 568.60,122.00 C569.42,115.17 570.08,110.00 570.70,104.00 C571.32,98.00 571.93,91.67 572.30,86.00 C572.67,80.33 572.60,73.59 572.90,70.00 C573.20,66.41 573.68,66.01 574.10,64.46 C574.52,62.91 574.95,61.58 575.40,60.70 C575.85,59.82 576.32,59.20 576.80,59.20 C577.28,59.20 577.83,59.82 578.30,60.70 C578.77,61.58 579.20,62.91 579.60,64.46 C580.00,66.01 580.38,67.41 580.70,70.00 C581.02,72.59 581.28,77.00 581.51,80.00 C581.73,83.00 581.93,85.50 582.05,88.00 C582.18,90.50 582.22,93.83 582.25,95.00" fill="none" stroke="#0055ff" stroke-width="2.6" stroke-linejoin="round" stroke-linecap="butt"/>
<path d="M595.80,215.00 C596.00,212.67 596.62,204.50 597.00,201.00 C597.38,197.50 597.58,197.00 598.10,194.00 C598.62,191.00 599.42,186.67 600.10,183.00 C600.78,179.33 601.35,175.83 602.20,172.00 C603.05,168.17 604.13,164.17 605.20,160.00 C606.27,155.83 607.52,151.00 608.60,147.00 C609.68,143.00 610.62,139.67 611.70,136.00 C612.78,132.33 613.67,128.83 615.10,125.00 C616.53,121.17 618.50,116.67 620.30,113.00 C622.10,109.33 624.48,105.17 625.90,103.00 C627.32,100.83 627.82,101.00 628.80,100.00 C629.78,99.00 630.97,97.83 631.80,97.00 C632.63,96.17 633.33,95.47 633.80,95.00 C634.27,94.53 633.68,94.48 634.60,94.20 C635.52,93.92 638.52,93.45 639.30,93.30" fill="none" stroke="#0055ff" stroke-width="2.6" stroke-linejoin="round" stroke-linecap="butt"/>
<path d="M505.00,215.00 C505.12,212.67 505.40,206.17 505.70,201.00 C506.00,195.83 506.33,189.83 506.80,184.00 C507.27,178.17 507.92,170.83 508.50,166.00 C509.08,161.17 509.72,157.63 510.30,155.00 C510.88,152.37 511.42,150.12 512.00,150.20 C512.58,150.28 513.07,152.87 513.80,155.50 C514.53,158.13 515.67,161.25 516.40,166.00 C517.13,170.75 517.57,178.33 518.20,184.00 C518.83,189.67 519.60,196.33 520.20,200.00 C520.80,203.67 521.27,206.00 521.80,206.00 C522.33,206.00 522.40,203.67 523.40,200.00 C524.40,196.33 526.48,189.83 527.80,184.00 C529.12,178.17 530.13,171.50 531.30,165.00 C532.47,158.50 533.75,151.17 534.80,145.00 C535.85,138.83 536.72,133.75 537.60,128.00 C538.48,122.25 539.32,116.58 540.10,110.50 C540.88,104.42 541.75,95.75 542.30,91.50 C542.85,87.25 543.03,86.45 543.40,85.00 C543.77,83.55 544.12,82.87 544.50,82.80 C544.88,82.73 545.27,83.48 545.70,84.60 C546.13,85.72 546.72,87.85 547.10,89.50 C547.48,91.15 547.70,90.75 548.00,94.50 C548.30,98.25 548.53,106.08 548.90,112.00 C549.27,117.92 549.62,124.00 550.20,130.00 C550.78,136.00 551.52,142.92 552.40,148.00 C553.28,153.08 554.63,157.83 555.50,160.50 C556.37,163.17 556.88,164.00 557.60,164.00 C558.32,164.00 558.92,162.50 559.80,160.50 C560.68,158.50 561.97,154.92 562.90,152.00 C563.83,149.08 564.50,148.00 565.40,143.00 C566.30,138.00 567.45,128.50 568.30,122.00 C569.15,115.50 569.87,110.00 570.50,104.00 C571.13,98.00 571.70,91.67 572.10,86.00 C572.50,80.33 572.57,73.71 572.90,70.00 C573.23,66.29 573.68,65.49 574.10,63.74 C574.52,61.99 574.95,60.46 575.40,59.50 C575.85,58.54 576.32,58.00 576.80,58.00 C577.28,58.00 577.83,58.54 578.30,59.50 C578.77,60.46 579.20,61.99 579.60,63.74 C580.00,65.49 580.36,67.29 580.70,70.00 C581.04,72.71 581.41,77.00 581.65,80.00 C581.89,83.00 582.03,85.50 582.13,88.00 C582.23,90.50 582.23,93.83 582.25,95.00" fill="none" stroke="#0099ff" stroke-width="2.6" stroke-linejoin="round" stroke-linecap="butt"/>
<path d="M594.00,215.00 C594.38,212.67 595.72,204.50 596.30,201.00 C596.88,197.50 596.97,197.00 597.50,194.00 C598.03,191.00 598.82,186.67 599.50,183.00 C600.18,179.33 600.75,175.83 601.60,172.00 C602.45,168.17 603.52,164.17 604.60,160.00 C605.68,155.83 607.02,151.00 608.10,147.00 C609.18,143.00 610.05,139.67 611.10,136.00 C612.15,132.33 613.00,128.83 614.40,125.00 C615.80,121.17 617.73,116.67 619.50,113.00 C621.27,109.33 623.58,105.25 625.00,103.00 C626.42,100.75 626.93,100.75 628.00,99.50 C629.07,98.25 630.40,96.55 631.40,95.50 C632.40,94.45 633.35,93.70 634.00,93.20 C634.65,92.70 634.30,92.78 635.30,92.50 C636.30,92.22 639.22,91.67 640.00,91.50" fill="none" stroke="#0099ff" stroke-width="1.6" stroke-linejoin="round" stroke-linecap="butt"/>
<path d="M487.50,215.00 C487.87,212.67 488.87,206.17 489.70,201.00 C490.53,195.83 491.45,189.17 492.50,184.00 C493.55,178.83 494.87,175.33 496.00,170.00 C497.13,164.67 498.12,158.00 499.30,152.00 C500.48,146.00 502.03,140.00 503.10,134.00 C504.17,128.00 504.83,122.00 505.70,116.00 C506.57,110.00 507.53,103.67 508.30,98.00 C509.07,92.33 509.83,85.42 510.30,82.00 C510.77,78.58 510.83,78.50 511.10,77.50 C511.37,76.50 511.62,76.00 511.90,76.00 C512.18,76.00 512.48,76.50 512.80,77.50 C513.12,78.50 513.37,78.92 513.80,82.00 C514.23,85.08 514.87,91.00 515.40,96.00 C515.93,101.00 516.50,106.83 517.00,112.00 C517.50,117.17 517.73,122.42 518.40,127.00 C519.07,131.58 520.02,136.30 521.00,139.50 C521.98,142.70 523.20,146.20 524.30,146.20 C525.40,146.20 526.32,142.70 527.60,139.50 C528.88,136.30 530.68,131.58 532.00,127.00 C533.32,122.42 534.40,116.83 535.50,112.00 C536.60,107.17 537.65,103.33 538.60,98.00 C539.55,92.67 540.50,84.33 541.20,80.00 C541.90,75.67 542.30,73.73 542.80,72.00 C543.30,70.27 543.70,69.60 544.20,69.60 C544.70,69.60 545.35,71.03 545.80,72.00 C546.25,72.97 546.52,73.62 546.90,75.40 C547.28,77.18 547.73,80.11 548.10,82.70 C548.47,85.29 548.78,87.93 549.10,90.93 C549.42,93.93 549.70,97.01 550.00,100.70 C550.30,104.38 550.55,108.24 550.90,113.04 C551.25,117.84 551.67,124.78 552.10,129.50 C552.53,134.21 553.00,138.01 553.50,141.32 C554.00,144.63 554.55,147.27 555.10,149.34 C555.65,151.42 556.22,152.82 556.80,153.77 C557.38,154.71 557.80,155.88 558.60,155.00 C559.40,154.12 560.63,150.83 561.60,148.50 C562.57,146.17 563.38,145.42 564.40,141.00 C565.42,136.58 566.78,128.17 567.70,122.00 C568.62,115.83 569.28,110.00 569.90,104.00 C570.52,98.00 570.90,91.67 571.40,86.00 C571.90,80.33 572.45,73.72 572.90,70.00 C573.35,66.28 573.68,65.47 574.10,63.71 C574.52,61.95 574.95,60.41 575.40,59.45 C575.85,58.49 576.32,57.95 576.80,57.95 C577.28,57.95 577.83,58.49 578.30,59.45 C578.77,60.41 579.20,61.95 579.60,63.71 C580.00,65.47 580.36,67.28 580.70,70.00 C581.04,72.72 581.42,77.00 581.66,80.00 C581.90,83.00 582.03,85.50 582.13,88.00 C582.23,90.50 582.23,93.83 582.25,95.00" fill="none" stroke="#00e5ff" stroke-width="2.6" stroke-linejoin="round" stroke-linecap="butt"/>
<path d="M594.00,215.00 C594.38,212.67 595.72,204.50 596.30,201.00 C596.88,197.50 596.97,197.00 597.50,194.00 C598.03,191.00 598.82,186.67 599.50,183.00 C600.18,179.33 600.75,175.83 601.60,172.00 C602.45,168.17 603.52,164.17 604.60,160.00 C605.68,155.83 607.02,151.00 608.10,147.00 C609.18,143.00 610.05,139.67 611.10,136.00 C612.15,132.33 613.00,128.83 614.40,125.00 C615.80,121.17 617.73,116.67 619.50,113.00 C621.27,109.33 623.58,105.25 625.00,103.00 C626.42,100.75 626.93,100.75 628.00,99.50 C629.07,98.25 630.40,96.55 631.40,95.50 C632.40,94.45 633.35,93.70 634.00,93.20 C634.65,92.70 634.30,92.78 635.30,92.50 C636.30,92.22 639.22,91.67 640.00,91.50" fill="none" stroke="#00e5ff" stroke-width="1.6" stroke-linejoin="round" stroke-linecap="butt"/>
<path d="M483.30,215.00 C483.37,212.67 483.52,206.17 483.70,201.00 C483.88,195.83 483.95,189.17 484.40,184.00 C484.85,178.83 485.23,175.33 486.40,170.00 C487.57,164.67 489.53,158.00 491.40,152.00 C493.27,146.00 495.80,140.00 497.60,134.00 C499.40,128.00 500.85,122.00 502.20,116.00 C503.55,110.00 504.75,103.67 505.70,98.00 C506.65,92.33 507.25,86.67 507.90,82.00 C508.55,77.33 509.15,72.67 509.60,70.00 C510.05,67.33 510.27,66.87 510.60,66.00 C510.93,65.13 511.23,64.75 511.60,64.80 C511.97,64.85 512.33,65.27 512.80,66.30 C513.27,67.33 513.87,68.88 514.40,71.00 C514.93,73.12 515.47,75.17 516.00,79.00 C516.53,82.83 517.10,88.83 517.60,94.00 C518.10,99.17 518.47,105.00 519.00,110.00 C519.53,115.00 520.20,120.08 520.80,124.00 C521.40,127.92 521.97,131.07 522.60,133.50 C523.23,135.93 523.90,138.52 524.60,138.60 C525.30,138.68 525.97,136.27 526.80,134.00 C527.63,131.73 528.47,128.50 529.60,125.00 C530.73,121.50 532.40,116.67 533.60,113.00 C534.80,109.33 535.80,106.50 536.80,103.00 C537.80,99.50 538.80,96.33 539.60,92.00 C540.40,87.67 541.05,80.50 541.60,77.00 C542.15,73.50 542.47,72.35 542.90,71.00 C543.33,69.65 543.73,68.90 544.20,68.90 C544.67,68.90 545.23,69.92 545.70,71.00 C546.17,72.08 546.58,73.46 547.00,75.40 C547.42,77.34 547.83,80.08 548.20,82.65 C548.57,85.22 548.88,87.84 549.20,90.81 C549.52,93.79 549.80,96.85 550.10,100.51 C550.40,104.17 550.65,107.99 551.00,112.76 C551.35,117.52 551.77,124.41 552.20,129.09 C552.63,133.77 553.10,137.54 553.60,140.83 C554.10,144.11 554.65,146.73 555.20,148.79 C555.75,150.84 556.32,152.24 556.90,153.18 C557.48,154.11 557.88,155.26 558.70,154.40 C559.52,153.54 560.87,150.23 561.80,148.00 C562.73,145.77 563.32,145.33 564.30,141.00 C565.28,136.67 566.77,128.17 567.70,122.00 C568.63,115.83 569.30,110.00 569.90,104.00 C570.50,98.00 570.80,91.67 571.30,86.00 C571.80,80.33 572.43,73.72 572.90,70.00 C573.37,66.28 573.68,65.45 574.10,63.68 C574.52,61.91 574.95,60.36 575.40,59.40 C575.85,58.44 576.32,57.90 576.80,57.90 C577.28,57.90 577.83,58.44 578.30,59.40 C578.77,60.36 579.20,61.91 579.60,63.68 C580.00,65.45 580.36,67.28 580.70,70.00 C581.04,72.72 581.43,77.00 581.66,80.00 C581.90,83.00 582.03,85.50 582.13,88.00 C582.23,90.50 582.23,93.83 582.25,95.00" fill="none" stroke="#00ee66" stroke-width="2.6" stroke-linejoin="round" stroke-linecap="butt"/>
<path d="M594.00,215.00 C594.38,212.67 595.72,204.50 596.30,201.00 C596.88,197.50 596.97,197.00 597.50,194.00 C598.03,191.00 598.82,186.67 599.50,183.00 C600.18,179.33 600.75,175.83 601.60,172.00 C602.45,168.17 603.52,164.17 604.60,160.00 C605.68,155.83 607.02,151.00 608.10,147.00 C609.18,143.00 610.05,139.67 611.10,136.00 C612.15,132.33 613.00,128.83 614.40,125.00 C615.80,121.17 617.73,116.67 619.50,113.00 C621.27,109.33 623.58,105.25 625.00,103.00 C626.42,100.75 626.93,100.75 628.00,99.50 C629.07,98.25 630.40,96.55 631.40,95.50 C632.40,94.45 633.35,93.70 634.00,93.20 C634.65,92.70 634.30,92.78 635.30,92.50 C636.30,92.22 639.22,91.67 640.00,91.50" fill="none" stroke="#00ee66" stroke-width="1.6" stroke-linejoin="round" stroke-linecap="butt"/>
<path d="M479.00,215.00 C479.07,212.67 479.23,206.17 479.40,201.00 C479.57,195.83 479.75,189.17 480.00,184.00 C480.25,178.83 480.48,175.33 480.90,170.00 C481.32,164.67 482.10,158.00 482.50,152.00 C482.90,146.00 482.93,140.00 483.30,134.00 C483.67,128.00 484.35,120.33 484.70,116.00 C485.05,111.67 485.05,110.53 485.40,108.00 C485.75,105.47 486.27,102.50 486.80,100.80 C487.33,99.10 487.87,98.53 488.60,97.80 C489.33,97.07 490.30,96.70 491.20,96.40 C492.10,96.10 493.07,96.17 494.00,96.00 C494.93,95.83 495.87,95.77 496.80,95.40 C497.73,95.03 498.73,94.53 499.60,93.80 C500.47,93.07 501.23,92.22 502.00,91.00 C502.77,89.78 503.53,88.17 504.20,86.50 C504.87,84.83 505.37,83.33 506.00,81.00 C506.63,78.67 507.37,74.92 508.00,72.50 C508.63,70.08 509.23,67.92 509.80,66.50 C510.37,65.08 510.87,64.08 511.40,64.00 C511.93,63.92 512.47,64.83 513.00,66.00 C513.53,67.17 514.07,68.83 514.60,71.00 C515.13,73.17 515.68,75.17 516.20,79.00 C516.72,82.83 517.20,88.83 517.70,94.00 C518.20,99.17 518.65,105.25 519.20,110.00 C519.75,114.75 520.37,119.25 521.00,122.50 C521.63,125.75 522.33,127.92 523.00,129.50 C523.67,131.08 524.30,132.08 525.00,132.00 C525.70,131.92 526.37,130.67 527.20,129.00 C528.03,127.33 528.87,124.83 530.00,122.00 C531.13,119.17 532.83,115.25 534.00,112.00 C535.17,108.75 536.07,105.92 537.00,102.50 C537.93,99.08 538.83,95.83 539.60,91.50 C540.37,87.17 541.05,79.98 541.60,76.50 C542.15,73.02 542.47,71.93 542.90,70.60 C543.33,69.27 543.73,68.50 544.20,68.50 C544.67,68.50 545.23,69.45 545.70,70.60 C546.18,71.75 546.62,73.40 547.05,75.40 C547.47,77.40 547.88,80.05 548.25,82.61 C548.62,85.17 548.93,87.77 549.25,90.73 C549.57,93.70 549.85,96.74 550.15,100.38 C550.45,104.02 550.70,107.83 551.05,112.57 C551.40,117.31 551.82,124.16 552.25,128.82 C552.68,133.47 553.15,137.23 553.65,140.49 C554.15,143.76 554.70,146.37 555.25,148.41 C555.80,150.46 556.36,151.85 556.95,152.78 C557.54,153.71 557.96,154.88 558.80,154.00 C559.64,153.12 561.10,149.67 562.00,147.50 C562.90,145.33 563.25,145.25 564.20,141.00 C565.15,136.75 566.75,128.17 567.70,122.00 C568.65,115.83 569.30,110.00 569.90,104.00 C570.50,98.00 570.80,91.67 571.30,86.00 C571.80,80.33 572.43,73.72 572.90,70.00 C573.37,66.28 573.68,65.42 574.10,63.65 C574.52,61.88 574.95,60.32 575.40,59.35 C575.85,58.38 576.32,57.85 576.80,57.85 C577.28,57.85 577.83,58.38 578.30,59.35 C578.77,60.32 579.20,61.88 579.60,63.65 C580.00,65.42 580.36,67.28 580.70,70.00 C581.05,72.72 581.43,77.00 581.67,80.00 C581.91,83.00 582.04,85.50 582.13,88.00 C582.23,90.50 582.23,93.83 582.25,95.00" fill="none" stroke="#11ee00" stroke-width="2.6" stroke-linejoin="round" stroke-linecap="butt"/>
<path d="M594.00,215.00 C594.38,212.67 595.72,204.50 596.30,201.00 C596.88,197.50 596.97,197.00 597.50,194.00 C598.03,191.00 598.82,186.67 599.50,183.00 C600.18,179.33 600.75,175.83 601.60,172.00 C602.45,168.17 603.52,164.17 604.60,160.00 C605.68,155.83 607.02,151.00 608.10,147.00 C609.18,143.00 610.05,139.67 611.10,136.00 C612.15,132.33 613.00,128.83 614.40,125.00 C615.80,121.17 617.73,116.67 619.50,113.00 C621.27,109.33 623.58,105.25 625.00,103.00 C626.42,100.75 626.93,100.75 628.00,99.50 C629.07,98.25 630.40,96.55 631.40,95.50 C632.40,94.45 633.35,93.70 634.00,93.20 C634.65,92.70 634.30,92.78 635.30,92.50 C636.30,92.22 639.22,91.67 640.00,91.50" fill="none" stroke="#11ee00" stroke-width="1.6" stroke-linejoin="round" stroke-linecap="butt"/>
<path d="M476.80,215.00 C476.83,212.67 476.90,206.17 477.00,201.00 C477.10,195.83 477.18,189.17 477.40,184.00 C477.62,178.83 477.90,175.33 478.30,170.00 C478.70,164.67 479.35,158.00 479.80,152.00 C480.25,146.00 480.52,140.00 481.00,134.00 C481.48,128.00 482.20,122.00 482.70,116.00 C483.20,110.00 483.60,103.33 484.00,98.00 C484.40,92.67 484.77,87.75 485.10,84.00 C485.43,80.25 485.68,77.45 486.00,75.50 C486.32,73.55 486.63,72.98 487.00,72.30 C487.37,71.62 487.70,71.40 488.20,71.40 C488.70,71.40 489.05,71.57 490.00,72.30 C490.95,73.03 492.73,74.75 493.90,75.80 C495.07,76.85 496.05,77.80 497.00,78.60 C497.95,79.40 498.80,80.13 499.60,80.60 C500.40,81.07 501.10,81.42 501.80,81.40 C502.50,81.38 503.13,81.15 503.80,80.50 C504.47,79.85 505.13,79.00 505.80,77.50 C506.47,76.00 507.17,73.42 507.80,71.50 C508.43,69.58 509.02,67.33 509.60,66.00 C510.18,64.67 510.73,63.57 511.30,63.50 C511.87,63.43 512.45,64.38 513.00,65.60 C513.55,66.82 514.05,68.57 514.60,70.80 C515.15,73.03 515.77,75.13 516.30,79.00 C516.83,82.87 517.30,88.83 517.80,94.00 C518.30,99.17 518.73,105.33 519.30,110.00 C519.87,114.67 520.57,118.90 521.20,122.00 C521.83,125.10 522.47,127.13 523.10,128.60 C523.73,130.07 524.32,130.90 525.00,130.80 C525.68,130.70 526.37,129.55 527.20,128.00 C528.03,126.45 528.83,124.23 530.00,121.50 C531.17,118.77 533.02,114.85 534.20,111.60 C535.38,108.35 536.20,105.43 537.10,102.00 C538.00,98.57 538.85,95.30 539.60,91.00 C540.35,86.70 541.05,79.65 541.60,76.20 C542.15,72.75 542.47,71.63 542.90,70.30 C543.33,68.97 543.73,68.20 544.20,68.20 C544.67,68.20 545.22,69.10 545.70,70.30 C546.18,71.50 546.67,73.35 547.10,75.40 C547.53,77.45 547.93,80.04 548.30,82.58 C548.67,85.13 548.98,87.72 549.30,90.68 C549.62,93.63 549.90,96.66 550.20,100.29 C550.50,103.91 550.75,107.70 551.10,112.43 C551.45,117.15 551.87,123.97 552.30,128.61 C552.73,133.25 553.20,136.99 553.70,140.25 C554.20,143.50 554.75,146.10 555.30,148.14 C555.85,150.18 556.42,151.56 557.00,152.49 C557.58,153.41 557.93,154.61 558.80,153.70 C559.67,152.79 561.30,149.12 562.20,147.00 C563.10,144.88 563.28,145.17 564.20,141.00 C565.12,136.83 566.75,128.17 567.70,122.00 C568.65,115.83 569.30,110.00 569.90,104.00 C570.50,98.00 570.80,91.67 571.30,86.00 C571.80,80.33 572.43,73.73 572.90,70.00 C573.37,66.27 573.68,65.40 574.10,63.62 C574.52,61.84 574.95,60.27 575.40,59.30 C575.85,58.33 576.32,57.80 576.80,57.80 C577.28,57.80 577.83,58.33 578.30,59.30 C578.77,60.27 579.20,61.84 579.60,63.62 C580.00,65.40 580.35,67.27 580.70,70.00 C581.05,72.73 581.44,77.00 581.68,80.00 C581.92,83.00 582.04,85.50 582.14,88.00 C582.23,90.50 582.23,93.83 582.25,95.00" fill="none" stroke="#99ee00" stroke-width="2.6" stroke-linejoin="round" stroke-linecap="butt"/>
<path d="M594.00,215.00 C594.38,212.67 595.72,204.50 596.30,201.00 C596.88,197.50 596.97,197.00 597.50,194.00 C598.03,191.00 598.82,186.67 599.50,183.00 C600.18,179.33 600.75,175.83 601.60,172.00 C602.45,168.17 603.52,164.17 604.60,160.00 C605.68,155.83 607.02,151.00 608.10,147.00 C609.18,143.00 610.05,139.67 611.10,136.00 C612.15,132.33 613.00,128.83 614.40,125.00 C615.80,121.17 617.73,116.67 619.50,113.00 C621.27,109.33 623.58,105.25 625.00,103.00 C626.42,100.75 626.93,100.75 628.00,99.50 C629.07,98.25 630.40,96.55 631.40,95.50 C632.40,94.45 633.35,93.70 634.00,93.20 C634.65,92.70 634.30,92.78 635.30,92.50 C636.30,92.22 639.22,91.67 640.00,91.50" fill="none" stroke="#99ee00" stroke-width="1.6" stroke-linejoin="round" stroke-linecap="butt"/>
<path d="M473.60,215.00 C473.68,212.67 473.87,206.17 474.10,201.00 C474.33,195.83 474.67,189.17 475.00,184.00 C475.33,178.83 475.67,175.33 476.10,170.00 C476.53,164.67 477.02,158.00 477.60,152.00 C478.18,146.00 478.97,140.00 479.60,134.00 C480.23,128.00 480.88,122.00 481.40,116.00 C481.92,110.00 482.23,104.00 482.70,98.00 C483.17,92.00 483.80,84.83 484.20,80.00 C484.60,75.17 484.80,71.47 485.10,69.00 C485.40,66.53 485.70,66.03 486.00,65.20 C486.30,64.37 486.53,64.07 486.90,64.00 C487.27,63.93 487.68,64.30 488.20,64.80 C488.72,65.30 489.28,66.13 490.00,67.00 C490.72,67.87 491.67,68.92 492.50,70.00 C493.33,71.08 494.17,72.42 495.00,73.50 C495.83,74.58 496.63,75.50 497.50,76.50 C498.37,77.50 499.38,78.77 500.20,79.50 C501.02,80.23 501.73,80.85 502.40,80.90 C503.07,80.95 503.60,80.62 504.20,79.80 C504.80,78.98 505.37,77.63 506.00,76.00 C506.63,74.37 507.38,71.83 508.00,70.00 C508.62,68.17 509.15,66.17 509.70,65.00 C510.25,63.83 510.75,62.97 511.30,63.00 C511.85,63.03 512.43,63.93 513.00,65.20 C513.57,66.47 514.13,68.30 514.70,70.60 C515.27,72.90 515.87,75.10 516.40,79.00 C516.93,82.90 517.40,88.83 517.90,94.00 C518.40,99.17 518.82,105.33 519.40,110.00 C519.98,114.67 520.77,118.97 521.40,122.00 C522.03,125.03 522.60,126.87 523.20,128.20 C523.80,129.53 524.37,130.12 525.00,130.00 C525.63,129.88 526.17,129.00 527.00,127.50 C527.83,126.00 528.77,123.72 530.00,121.00 C531.23,118.28 533.20,114.40 534.40,111.20 C535.60,108.00 536.33,105.20 537.20,101.80 C538.07,98.40 538.87,95.10 539.60,90.80 C540.33,86.50 541.05,79.47 541.60,76.00 C542.15,72.53 542.47,71.33 542.90,70.00 C543.33,68.67 543.73,68.00 544.20,68.00 C544.67,68.00 545.21,68.77 545.70,70.00 C546.19,71.23 546.71,73.31 547.15,75.40 C547.59,77.49 547.98,80.02 548.35,82.56 C548.72,85.10 549.03,87.69 549.35,90.64 C549.67,93.58 549.95,96.61 550.25,100.22 C550.55,103.84 550.80,107.62 551.15,112.33 C551.50,117.04 551.92,123.85 552.35,128.48 C552.78,133.10 553.25,136.83 553.75,140.08 C554.25,143.33 554.80,145.92 555.35,147.95 C555.90,149.99 556.47,151.36 557.05,152.29 C557.62,153.21 557.91,154.45 558.80,153.50 C559.69,152.55 561.50,148.68 562.40,146.60 C563.30,144.52 563.30,145.10 564.20,141.00 C565.10,136.90 566.85,128.17 567.80,122.00 C568.75,115.83 569.32,110.00 569.90,104.00 C570.48,98.00 570.80,91.67 571.30,86.00 C571.80,80.33 572.43,73.73 572.90,70.00 C573.37,66.27 573.68,65.38 574.10,63.59 C574.52,61.80 574.95,60.22 575.40,59.25 C575.85,58.28 576.32,57.75 576.80,57.75 C577.28,57.75 577.83,58.28 578.30,59.25 C578.77,60.22 579.20,61.80 579.60,63.59 C580.00,65.38 580.35,67.27 580.70,70.00 C581.05,72.73 581.44,77.00 581.68,80.00 C581.92,83.00 582.05,85.50 582.14,88.00 C582.24,90.50 582.23,93.83 582.25,95.00" fill="none" stroke="#ffc800" stroke-width="2.6" stroke-linejoin="round" stroke-linecap="butt"/>
<path d="M594.00,215.00 C594.38,212.67 595.72,204.50 596.30,201.00 C596.88,197.50 596.97,197.00 597.50,194.00 C598.03,191.00 598.82,186.67 599.50,183.00 C600.18,179.33 600.75,175.83 601.60,172.00 C602.45,168.17 603.52,164.17 604.60,160.00 C605.68,155.83 607.02,151.00 608.10,147.00 C609.18,143.00 610.05,139.67 611.10,136.00 C612.15,132.33 613.00,128.83 614.40,125.00 C615.80,121.17 617.73,116.67 619.50,113.00 C621.27,109.33 623.58,105.25 625.00,103.00 C626.42,100.75 626.93,100.75 628.00,99.50 C629.07,98.25 630.40,96.55 631.40,95.50 C632.40,94.45 633.35,93.70 634.00,93.20 C634.65,92.70 634.30,92.78 635.30,92.50 C636.30,92.22 639.22,91.67 640.00,91.50" fill="none" stroke="#ffc800" stroke-width="1.6" stroke-linejoin="round" stroke-linecap="butt"/>
<path d="M453.30,97.30 L453.80,120.00 L454.30,150.00 L455.00,180.00 L455.50,201.00 L455.80,215.00" fill="none" stroke="#ff7000" stroke-width="2.2" stroke-linejoin="round" stroke-linecap="butt"/>
<path d="M469.60,215.00 C469.67,212.67 469.60,206.17 470.00,201.00 C470.40,195.83 471.47,189.17 472.00,184.00 C472.53,178.83 472.63,175.33 473.20,170.00 C473.77,164.67 474.62,158.00 475.40,152.00 C476.18,146.00 477.13,140.00 477.90,134.00 C478.67,128.00 479.42,122.00 480.00,116.00 C480.58,110.00 480.90,104.00 481.40,98.00 C481.90,92.00 482.50,85.17 483.00,80.00 C483.50,74.83 483.97,70.00 484.40,67.00 C484.83,64.00 485.20,63.07 485.60,62.00 C486.00,60.93 486.33,60.67 486.80,60.60 C487.27,60.53 487.78,60.93 488.40,61.60 C489.02,62.27 489.73,63.47 490.50,64.60 C491.27,65.73 492.00,66.97 493.00,68.40 C494.00,69.83 495.33,71.67 496.50,73.20 C497.67,74.73 499.08,76.57 500.00,77.60 C500.92,78.63 501.40,79.03 502.00,79.40 C502.60,79.77 503.07,80.00 503.60,79.80 C504.13,79.60 504.63,79.17 505.20,78.20 C505.77,77.23 506.43,75.63 507.00,74.00 C507.57,72.37 508.10,70.03 508.60,68.40 C509.10,66.77 509.57,65.18 510.00,64.20 C510.43,63.22 510.73,62.53 511.20,62.50 C511.67,62.47 512.23,62.83 512.80,64.00 C513.37,65.17 514.00,67.17 514.60,69.50 C515.20,71.83 515.85,74.08 516.40,78.00 C516.95,81.92 517.40,87.75 517.90,93.00 C518.40,98.25 518.82,104.75 519.40,109.50 C519.98,114.25 520.77,118.48 521.40,121.50 C522.03,124.52 522.60,126.28 523.20,127.60 C523.80,128.92 524.38,129.50 525.00,129.40 C525.62,129.30 526.13,128.40 526.90,127.00 C527.67,125.60 528.48,123.50 529.60,121.00 C530.72,118.50 532.40,115.17 533.60,112.00 C534.80,108.83 535.83,105.50 536.80,102.00 C537.77,98.50 538.62,95.33 539.40,91.00 C540.18,86.67 540.93,79.53 541.50,76.00 C542.07,72.47 542.37,71.17 542.80,69.80 C543.23,68.43 543.63,67.80 544.10,67.80 C544.57,67.80 545.08,68.53 545.60,69.80 C546.12,71.07 546.73,73.28 547.20,75.40 C547.67,77.52 548.03,80.01 548.40,82.55 C548.77,85.08 549.08,87.66 549.40,90.60 C549.72,93.53 550.00,96.55 550.30,100.16 C550.60,103.77 550.85,107.54 551.20,112.24 C551.55,116.93 551.97,123.73 552.40,128.34 C552.83,132.95 553.30,136.68 553.80,139.91 C554.30,143.15 554.85,145.73 555.40,147.76 C555.95,149.79 556.53,151.17 557.10,152.09 C557.67,153.01 557.88,154.28 558.80,153.30 C559.72,152.32 561.70,148.25 562.60,146.20 C563.50,144.15 563.33,145.03 564.20,141.00 C565.07,136.97 566.85,128.17 567.80,122.00 C568.75,115.83 569.32,110.00 569.90,104.00 C570.48,98.00 570.80,91.67 571.30,86.00 C571.80,80.33 572.43,73.74 572.90,70.00 C573.37,66.26 573.68,65.36 574.10,63.56 C574.52,61.76 574.95,60.18 575.40,59.20 C575.85,58.22 576.32,57.70 576.80,57.70 C577.28,57.70 577.83,58.22 578.30,59.20 C578.77,60.18 579.20,61.76 579.60,63.56 C580.00,65.36 580.35,67.26 580.70,70.00 C581.05,72.74 581.45,77.00 581.69,80.00 C581.93,83.00 582.05,85.50 582.14,88.00 C582.24,90.50 582.23,93.83 582.25,95.00" fill="none" stroke="#ff7000" stroke-width="2.6" stroke-linejoin="round" stroke-linecap="butt"/>
<path d="M594.00,215.00 C594.38,212.67 595.72,204.50 596.30,201.00 C596.88,197.50 596.97,197.00 597.50,194.00 C598.03,191.00 598.82,186.67 599.50,183.00 C600.18,179.33 600.75,175.83 601.60,172.00 C602.45,168.17 603.52,164.17 604.60,160.00 C605.68,155.83 607.02,151.00 608.10,147.00 C609.18,143.00 610.05,139.67 611.10,136.00 C612.15,132.33 613.00,128.83 614.40,125.00 C615.80,121.17 617.73,116.67 619.50,113.00 C621.27,109.33 623.58,105.25 625.00,103.00 C626.42,100.75 626.93,100.75 628.00,99.50 C629.07,98.25 630.40,96.55 631.40,95.50 C632.40,94.45 633.35,93.70 634.00,93.20 C634.65,92.70 634.30,92.78 635.30,92.50 C636.30,92.22 639.22,91.67 640.00,91.50" fill="none" stroke="#ff7000" stroke-width="2.6" stroke-linejoin="round" stroke-linecap="butt"/>
<path d="M453.30,97.30 L453.20,150.00 L453.10,215.00" fill="none" stroke="#ff3000" stroke-width="2.2" stroke-linejoin="round" stroke-linecap="butt"/>
<path d="M464.60,215.00 C464.73,212.67 464.90,206.17 465.40,201.00 C465.90,195.83 466.83,189.17 467.60,184.00 C468.37,178.83 469.15,175.33 470.00,170.00 C470.85,164.67 471.77,158.00 472.70,152.00 C473.63,146.00 474.75,140.00 475.60,134.00 C476.45,128.00 477.17,122.00 477.80,116.00 C478.43,110.00 478.77,104.00 479.40,98.00 C480.03,92.00 480.97,84.53 481.60,80.00 C482.23,75.47 482.78,73.72 483.20,70.80 C483.62,67.88 483.75,64.50 484.10,62.50 C484.45,60.50 484.90,59.58 485.30,58.80 C485.70,58.02 486.02,57.77 486.50,57.80 C486.98,57.83 487.42,58.23 488.20,59.00 C488.98,59.77 490.33,61.23 491.20,62.40 C492.07,63.57 492.52,64.40 493.40,66.00 C494.28,67.60 495.25,70.13 496.50,72.00 C497.75,73.87 499.73,76.07 500.90,77.20 C502.07,78.33 502.75,78.90 503.50,78.80 C504.25,78.70 504.78,77.73 505.40,76.60 C506.02,75.47 506.63,73.67 507.20,72.00 C507.77,70.33 508.33,68.07 508.80,66.60 C509.27,65.13 509.62,64.00 510.00,63.20 C510.38,62.40 510.63,61.77 511.10,61.80 C511.57,61.83 512.22,62.28 512.80,63.40 C513.38,64.52 513.98,66.23 514.60,68.50 C515.22,70.77 515.93,73.00 516.50,77.00 C517.07,81.00 517.50,87.12 518.00,92.50 C518.50,97.88 518.90,104.45 519.50,109.30 C520.10,114.15 520.95,118.62 521.60,121.60 C522.25,124.58 522.83,125.98 523.40,127.20 C523.97,128.42 524.43,129.00 525.00,128.90 C525.57,128.80 526.07,127.95 526.80,126.60 C527.53,125.25 528.32,123.23 529.40,120.80 C530.48,118.37 532.10,115.18 533.30,112.00 C534.50,108.82 535.62,105.20 536.60,101.70 C537.58,98.20 538.40,95.35 539.20,91.00 C540.00,86.65 540.82,79.17 541.40,75.60 C541.98,72.03 542.27,70.92 542.70,69.60 C543.13,68.28 543.52,67.70 544.00,67.70 C544.48,67.70 545.05,68.32 545.60,69.60 C546.15,70.88 546.82,73.25 547.30,75.40 C547.78,77.55 548.13,80.00 548.50,82.52 C548.87,85.04 549.18,87.61 549.50,90.54 C549.82,93.46 550.10,96.47 550.40,100.06 C550.70,103.66 550.95,107.42 551.30,112.09 C551.65,116.77 552.07,123.54 552.50,128.14 C552.93,132.73 553.40,136.44 553.90,139.67 C554.40,142.89 554.95,145.46 555.50,147.49 C556.05,149.51 556.63,150.88 557.20,151.80 C557.77,152.72 557.98,154.00 558.90,153.00 C559.82,152.00 561.82,147.80 562.70,145.80 C563.58,143.80 563.35,144.97 564.20,141.00 C565.05,137.03 566.85,128.17 567.80,122.00 C568.75,115.83 569.32,110.00 569.90,104.00 C570.48,98.00 570.80,91.67 571.30,86.00 C571.80,80.33 572.43,73.75 572.90,70.00 C573.37,66.25 573.68,65.34 574.10,63.53 C574.52,61.72 574.95,60.13 575.40,59.15 C575.85,58.17 576.32,57.65 576.80,57.65 C577.28,57.65 577.83,58.17 578.30,59.15 C578.77,60.13 579.20,61.72 579.60,63.53 C580.00,65.34 580.35,67.25 580.70,70.00 C581.05,72.75 581.45,77.00 581.69,80.00 C581.94,83.00 582.05,85.50 582.15,88.00 C582.24,90.50 582.23,93.83 582.25,95.00" fill="none" stroke="#ff3000" stroke-width="2.6" stroke-linejoin="round" stroke-linecap="butt"/>
<path d="M588.70,215.00 C589.08,212.67 590.40,204.50 591.00,201.00 C591.60,197.50 591.77,197.00 592.30,194.00 C592.83,191.00 593.57,186.67 594.20,183.00 C594.83,179.33 595.30,175.83 596.10,172.00 C596.90,168.17 597.97,164.17 599.00,160.00 C600.03,155.83 601.22,151.00 602.30,147.00 C603.38,143.00 604.37,139.67 605.50,136.00 C606.63,132.33 607.65,128.83 609.10,125.00 C610.55,121.17 612.45,116.67 614.20,113.00 C615.95,109.33 618.08,105.42 619.60,103.00 C621.12,100.58 622.15,99.73 623.30,98.50 C624.45,97.27 625.22,96.62 626.50,95.60 C627.78,94.58 629.53,93.25 631.00,92.40 C632.47,91.55 633.80,90.95 635.30,90.50 C636.80,90.05 639.22,89.83 640.00,89.70" fill="none" stroke="#ff3000" stroke-width="2.6" stroke-linejoin="round" stroke-linecap="butt"/>
<path d="M453.30,97.30 L454.00,110.00 L455.00,134.00 L456.30,166.00 L457.60,190.00 L458.20,201.00 L458.80,215.00" fill="none" stroke="#ff0000" stroke-width="2.2" stroke-linejoin="round" stroke-linecap="butt"/>
<path d="M461.60,215.00 C461.77,212.67 461.87,206.17 462.60,201.00 C463.33,195.83 464.95,189.17 466.00,184.00 C467.05,178.83 467.87,175.33 468.90,170.00 C469.93,164.67 471.13,158.00 472.20,152.00 C473.27,146.00 474.40,140.00 475.30,134.00 C476.20,128.00 476.95,122.00 477.60,116.00 C478.25,110.00 478.57,104.00 479.20,98.00 C479.83,92.00 480.78,84.53 481.40,80.00 C482.02,75.47 482.50,73.80 482.90,70.80 C483.30,67.80 483.45,64.10 483.80,62.00 C484.15,59.90 484.57,59.00 485.00,58.20 C485.43,57.40 485.87,57.17 486.40,57.20 C486.93,57.23 487.40,57.63 488.20,58.40 C489.00,59.17 490.33,60.63 491.20,61.80 C492.07,62.97 492.52,63.77 493.40,65.40 C494.28,67.03 495.25,69.68 496.50,71.60 C497.75,73.52 499.73,75.77 500.90,76.90 C502.07,78.03 502.75,78.52 503.50,78.40 C504.25,78.28 504.78,77.33 505.40,76.20 C506.02,75.07 506.63,73.27 507.20,71.60 C507.77,69.93 508.33,67.70 508.80,66.20 C509.27,64.70 509.62,63.42 510.00,62.60 C510.38,61.78 510.63,61.27 511.10,61.30 C511.57,61.33 512.22,61.72 512.80,62.80 C513.38,63.88 513.97,65.53 514.60,67.80 C515.23,70.07 516.02,72.37 516.60,76.40 C517.18,80.43 517.60,86.57 518.10,92.00 C518.60,97.43 518.98,104.07 519.60,109.00 C520.22,113.93 521.13,118.62 521.80,121.60 C522.47,124.58 523.07,125.77 523.60,126.90 C524.13,128.03 524.48,128.52 525.00,128.40 C525.52,128.28 526.00,127.50 526.70,126.20 C527.40,124.90 528.13,122.97 529.20,120.60 C530.27,118.23 531.87,115.18 533.10,112.00 C534.33,108.82 535.58,105.00 536.60,101.50 C537.62,98.00 538.40,95.38 539.20,91.00 C540.00,86.62 540.83,78.80 541.40,75.20 C541.97,71.60 542.17,70.70 542.60,69.40 C543.03,68.10 543.50,67.40 544.00,67.40 C544.50,67.40 545.03,68.07 545.60,69.40 C546.17,70.73 546.90,73.22 547.40,75.40 C547.90,77.58 548.23,79.98 548.60,82.50 C548.97,85.02 549.28,87.58 549.60,90.50 C549.92,93.42 550.20,96.42 550.50,100.00 C550.80,103.58 551.05,107.33 551.40,112.00 C551.75,116.67 552.17,123.42 552.60,128.00 C553.03,132.58 553.50,136.28 554.00,139.50 C554.50,142.72 555.05,145.28 555.60,147.30 C556.15,149.32 556.75,150.68 557.30,151.60 C557.85,152.52 557.98,153.83 558.90,152.80 C559.82,151.77 561.92,147.37 562.80,145.40 C563.68,143.43 563.35,144.90 564.20,141.00 C565.05,137.10 566.93,128.17 567.90,122.00 C568.87,115.83 569.43,110.00 570.00,104.00 C570.57,98.00 570.82,91.67 571.30,86.00 C571.78,80.33 572.43,73.75 572.90,70.00 C573.37,66.25 573.68,65.32 574.10,63.50 C574.52,61.68 574.95,60.08 575.40,59.10 C575.85,58.12 576.32,57.60 576.80,57.60 C577.28,57.60 577.83,58.12 578.30,59.10 C578.77,60.08 579.20,61.68 579.60,63.50 C580.00,65.32 580.35,67.25 580.70,70.00 C581.05,72.75 581.46,77.00 581.70,80.00 C581.94,83.00 582.06,85.50 582.15,88.00 C582.24,90.50 582.23,93.83 582.25,95.00" fill="none" stroke="#ff0000" stroke-width="2.6" stroke-linejoin="round" stroke-linecap="butt"/>
<path d="M582.25,91.00 L582.25,100.00 L582.20,130.00 L581.90,170.00 L581.90,215.00" fill="none" stroke="#ff0000" stroke-width="2.3" stroke-linejoin="round" stroke-linecap="butt"/>
<path d="M586.00,215.00 C586.38,212.67 587.70,204.50 588.30,201.00 C588.90,197.50 589.05,197.00 589.60,194.00 C590.15,191.00 590.92,186.67 591.60,183.00 C592.28,179.33 592.87,175.83 593.70,172.00 C594.53,168.17 595.48,164.17 596.60,160.00 C597.72,155.83 599.30,151.00 600.40,147.00 C601.50,143.00 602.17,139.67 603.20,136.00 C604.23,132.33 605.17,128.83 606.60,125.00 C608.03,121.17 609.98,116.67 611.80,113.00 C613.62,109.33 615.88,105.58 617.50,103.00 C619.12,100.42 620.32,99.00 621.50,97.50 C622.68,96.00 623.18,95.15 624.60,94.00 C626.02,92.85 628.22,91.57 630.00,90.60 C631.78,89.63 633.63,88.77 635.30,88.20 C636.97,87.63 639.22,87.37 640.00,87.20" fill="none" stroke="#ff0000" stroke-width="2.6" stroke-linejoin="round" stroke-linecap="butt"/>
</g>
<path d="M401.00,201.0 v-3.8 M401.00,12.7 v3.8 M426.48,201.0 v-2.3 M426.48,12.7 v2.3 M451.96,201.0 v-3.8 M451.96,12.7 v3.8 M477.43,201.0 v-2.3 M477.43,12.7 v2.3 M502.91,201.0 v-3.8 M502.91,12.7 v3.8 M528.39,201.0 v-2.3 M528.39,12.7 v2.3 M553.87,201.0 v-3.8 M553.87,12.7 v3.8 M579.35,201.0 v-2.3 M579.35,12.7 v2.3 M604.83,201.0 v-3.8 M604.83,12.7 v3.8 M630.30,201.0 v-2.3 M630.30,12.7 v2.3 M401.0,201.00 h3.8 M401.0,189.23 h2.3 M401.0,177.46 h3.8 M401.0,165.69 h2.3 M401.0,153.93 h3.8 M401.0,142.16 h2.3 M401.0,130.39 h3.8 M401.0,118.62 h2.3 M401.0,106.85 h3.8 M401.0,95.08 h2.3 M401.0,83.31 h3.8 M401.0,71.54 h2.3 M401.0,59.77 h3.8 M401.0,48.01 h2.3 M401.0,36.24 h3.8 M401.0,24.47 h2.3 M401.0,12.70 h3.8 M635.4,201.00 h-3.8 M635.4,194.50 h-2.3 M635.4,190.69 h-2.3 M635.4,188.00 h-2.3 M635.4,185.90 h-2.3 M635.4,184.19 h-2.3 M635.4,182.75 h-2.3 M635.4,181.49 h-2.3 M635.4,180.39 h-2.3 M635.4,179.40 h-3.8 M635.4,172.90 h-2.3 M635.4,169.09 h-2.3 M635.4,166.40 h-2.3 M635.4,164.30 h-2.3 M635.4,162.59 h-2.3 M635.4,161.15 h-2.3 M635.4,159.89 h-2.3 M635.4,158.79 h-2.3 M635.4,157.80 h-3.8 M635.4,151.30 h-2.3 M635.4,147.49 h-2.3 M635.4,144.80 h-2.3 M635.4,142.70 h-2.3 M635.4,140.99 h-2.3 M635.4,139.55 h-2.3 M635.4,138.29 h-2.3 M635.4,137.19 h-2.3 M635.4,136.20 h-3.8 M635.4,129.70 h-2.3 M635.4,125.89 h-2.3 M635.4,123.20 h-2.3 M635.4,121.10 h-2.3 M635.4,119.39 h-2.3 M635.4,117.95 h-2.3 M635.4,116.69 h-2.3 M635.4,115.59 h-2.3 M635.4,114.60 h-3.8 M635.4,108.10 h-2.3 M635.4,104.29 h-2.3 M635.4,101.60 h-2.3 M635.4,99.50 h-2.3 M635.4,97.79 h-2.3 M635.4,96.35 h-2.3 M635.4,95.09 h-2.3 M635.4,93.99 h-2.3 M635.4,93.00 h-3.8 M635.4,86.50 h-2.3 M635.4,82.69 h-2.3 M635.4,80.00 h-2.3 M635.4,77.90 h-2.3 M635.4,76.19 h-2.3 M635.4,74.75 h-2.3 M635.4,73.49 h-2.3 M635.4,72.39 h-2.3 M635.4,71.40 h-3.8 M635.4,64.90 h-2.3 M635.4,61.09 h-2.3 M635.4,58.40 h-2.3 M635.4,56.30 h-2.3 M635.4,54.59 h-2.3 M635.4,53.15 h-2.3 M635.4,51.89 h-2.3 M635.4,50.79 h-2.3 M635.4,49.80 h-3.8 M635.4,43.30 h-2.3 M635.4,39.49 h-2.3 M635.4,36.80 h-2.3 M635.4,34.70 h-2.3 M635.4,32.99 h-2.3 M635.4,31.55 h-2.3 M635.4,30.29 h-2.3 M635.4,29.19 h-2.3 M635.4,28.20 h-3.8 M635.4,21.70 h-2.3 M635.4,17.89 h-2.3 M635.4,15.20 h-2.3 M635.4,13.10 h-2.3" stroke="#3a3a3a" stroke-width="1.0" fill="none"/>
<rect x="401.0" y="12.7" width="234.40" height="188.30" fill="none" stroke="#3a3a3a" stroke-width="1.1"/>
<text x="401.80" y="215.1" font-size="12.3" text-anchor="middle">140</text>
<text x="452.76" y="215.1" font-size="12.3" text-anchor="middle">150</text>
<text x="503.71" y="215.1" font-size="12.3" text-anchor="middle">160</text>
<text x="554.67" y="215.1" font-size="12.3" text-anchor="middle">170</text>
<text x="605.63" y="215.1" font-size="12.3" text-anchor="middle">180</text>
<text x="396.6" y="204.80" font-size="12.3" text-anchor="end">-1</text>
<text x="396.6" y="181.26" font-size="12.3" text-anchor="end">0</text>
<text x="396.6" y="157.73" font-size="12.3" text-anchor="end">1</text>
<text x="396.6" y="134.19" font-size="12.3" text-anchor="end">2</text>
<text x="396.6" y="110.65" font-size="12.3" text-anchor="end">3</text>
<text x="396.6" y="87.11" font-size="12.3" text-anchor="end">4</text>
<text x="396.6" y="63.57" font-size="12.3" text-anchor="end">5</text>
<text x="396.6" y="40.04" font-size="12.3" text-anchor="end">6</text>
<text x="396.6" y="16.50" font-size="12.3" text-anchor="end">7</text>
<text x="639.0" y="205.40" font-size="12.1">10<tspan font-size="8.6" x="653.4" dy="-5.3">13</tspan></text>
<text x="639.0" y="183.80" font-size="12.1">10<tspan font-size="8.6" x="653.4" dy="-5.3">14</tspan></text>
<text x="639.0" y="162.20" font-size="12.1">10<tspan font-size="8.6" x="653.4" dy="-5.3">15</tspan></text>
<text x="639.0" y="140.60" font-size="12.1">10<tspan font-size="8.6" x="653.4" dy="-5.3">16</tspan></text>
<text x="639.0" y="119.00" font-size="12.1">10<tspan font-size="8.6" x="653.4" dy="-5.3">17</tspan></text>
<text x="639.0" y="97.40" font-size="12.1">10<tspan font-size="8.6" x="653.4" dy="-5.3">18</tspan></text>
<text x="639.0" y="75.80" font-size="12.1">10<tspan font-size="8.6" x="653.4" dy="-5.3">19</tspan></text>
<text x="639.0" y="54.20" font-size="12.1">10<tspan font-size="8.6" x="653.4" dy="-5.3">20</tspan></text>
<text x="639.0" y="32.60" font-size="12.1">10<tspan font-size="8.6" x="653.4" dy="-5.3">21</tspan></text>
<text x="518.6" y="232.4" font-size="16.0" text-anchor="middle">Depth (nm)</text>
<text transform="translate(382.6,101.4) rotate(-90)" font-size="15.9" text-anchor="middle">Energy (eV)</text>
<text transform="translate(681.2,107) rotate(-90)" font-size="15.9" text-anchor="middle">Carrier density (cm<tspan font-size="10.5" dy="-6">-3</tspan><tspan dy="6">)</tspan></text>
<text x="466.7" y="8.6" font-size="10.8">EBL/LB</text>
<text x="505.7" y="8.6" font-size="10.5">QW3</text>
<text x="534.4" y="8.6" font-size="10.5">QW2</text>
<text x="564.4" y="8.6" font-size="10.5">QW1</text>
<text x="407.6" y="24.2" font-size="8.4">Simulation @ bias voltage [V]:</text>
<path d="M407.8,31.8 H426.5" stroke="#9b00ff" stroke-width="2.4"/>
<text x="429.2" y="34.8" font-size="8.4">0</text>
<path d="M435.9,31.8 H454.8" stroke="#4a00f5" stroke-width="2.4"/>
<text x="457.3" y="34.8" font-size="8.4">1</text>
<path d="M471.4,31.8 H489.8" stroke="#3300ff" stroke-width="2.4"/>
<text x="492.6" y="34.8" font-size="8.4">1.5</text>
<path d="M506,31.8 H525" stroke="#0055ff" stroke-width="2.4"/>
<text x="527.8" y="34.8" font-size="8.4">2</text>
<path d="M534.5,31.8 H553.2" stroke="#0099ff" stroke-width="2.4"/>
<text x="556" y="34.8" font-size="8.4">2.5</text>
<path d="M569.5,31.8 H588" stroke="#00e5ff" stroke-width="2.4"/>
<text x="590.8" y="34.8" font-size="8.4">3</text>
<path d="M597.6,31.8 H616.5" stroke="#00ee66" stroke-width="2.4"/>
<text x="619" y="34.8" font-size="8.4">3.5</text>
<path d="M407.8,41.9 H426.5" stroke="#11ee00" stroke-width="2.4"/>
<text x="429.2" y="44.9" font-size="8.4">4</text>
<path d="M435.9,41.9 H454.8" stroke="#99ee00" stroke-width="2.4"/>
<text x="457.0" y="44.9" font-size="8.4">4.5</text>
<path d="M471.4,41.9 H489.8" stroke="#ffc800" stroke-width="2.4"/>
<text x="492.6" y="44.9" font-size="8.4">5</text>
<path d="M506,41.9 H525" stroke="#ff7000" stroke-width="2.4"/>
<text x="527.8" y="44.9" font-size="8.4">6</text>
<path d="M534.5,41.9 H553.2" stroke="#ff3000" stroke-width="2.4"/>
<text x="556" y="44.9" font-size="8.4">7</text>
<path d="M569.5,41.9 H588" stroke="#ff0000" stroke-width="2.4"/>
<text x="590.8" y="44.9" font-size="8.4">8</text>
<text x="516.3" y="57.0" font-size="12.3" fill="#7cf97c">3.5 V</text>
<text x="547.5" y="57.0" font-size="12.3" fill="#4db8ff">2.5 V</text>
<text x="595.8" y="57.0" font-size="12.3" fill="#2a4dff">1.5 V</text>
<path d="M526.30,59.10 L520.87,62.94" stroke="#7cf97c" stroke-width="1.8" fill="none"/><path d="M512.30,69.00 L518.62,59.75 L523.12,66.12 Z" fill="#7cf97c"/>
<path d="M561.40,60.30 L552.42,72.21" stroke="#4db8ff" stroke-width="1.8" fill="none"/><path d="M546.40,80.20 L549.38,69.93 L555.45,74.50 Z" fill="#4db8ff"/>
<path d="M607.50,60.10 L593.17,61.14" stroke="#2a4dff" stroke-width="1.8" fill="none"/><path d="M582.70,61.90 L592.91,57.55 L593.43,64.73 Z" fill="#2a4dff"/>
<text x="609.8" y="194.6" font-size="18.3">(b)</text>
</svg>
</body></html>
